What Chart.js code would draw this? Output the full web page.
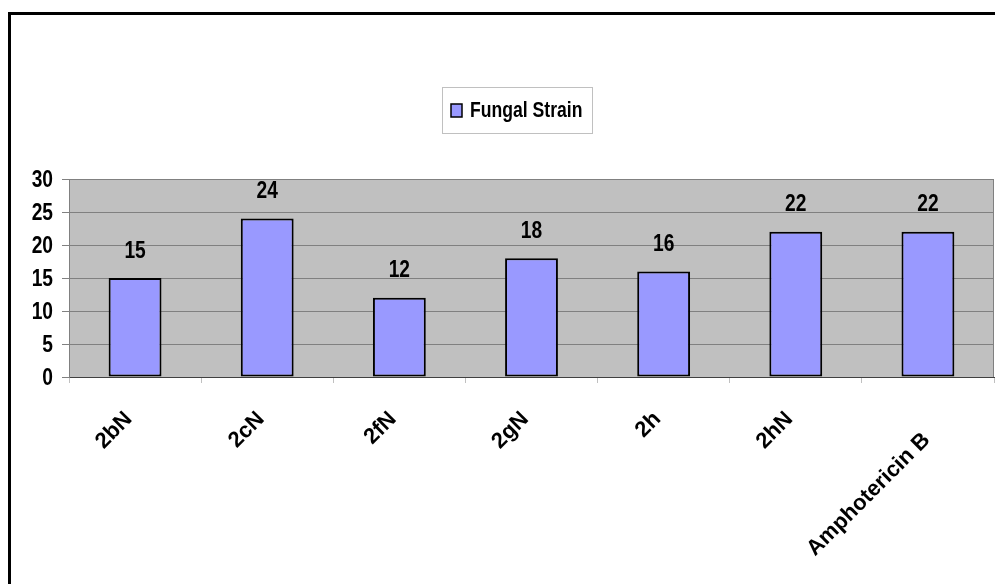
<!DOCTYPE html>
<html>
<head>
<meta charset="utf-8">
<script src="https://cdn.jsdelivr.net/npm/chart.js@4/dist/chart.umd.min.js"></script>
<style>
  html, body { margin: 0; padding: 0; background: #fff; }
  #wrap { width: 995px; height: 584px; }
</style>
</head>
<body>
<div id="wrap"><canvas id="grafico" width="995" height="584"></canvas></div>
<script>
const categorias = ["2bN", "2cN", "2fN", "2gN", "2h", "2hN", "Amphotericin B"];
const valores = [15, 24, 12, 18, 16, 22, 22];
const nomeSerie = "Fungal Strain";
const yMin = 0, yMax = 30, yPasso = 5;

const fonte = "'Liberation Sans', Arial, sans-serif";
const estreita = 0.8; // fator de compressao horizontal (tipo Arial Narrow)

// texto horizontal comprimido
function textoEstreito(ctx, txt, x, y, align) {
  ctx.save();
  ctx.translate(x, y);
  ctx.scale(estreita, 1);
  ctx.textAlign = align;
  ctx.fillText(txt, 0, 0);
  ctx.restore();
}

const fundoGrafico = {
  id: "fundoGrafico",
  beforeDraw(chart) {
    const { ctx, chartArea: a } = chart;
    ctx.save();
    ctx.fillStyle = "#fff";
    ctx.fillRect(0, 0, chart.width, chart.height);
    ctx.fillStyle = "#C0C0C0";
    ctx.fillRect(a.left, a.top, a.right - a.left, a.bottom - a.top);
    ctx.restore();
  },
  afterDraw(chart) {
    const { ctx, chartArea: a } = chart;
    ctx.save();
    ctx.strokeStyle = "#808080";
    ctx.lineWidth = 1;
    ctx.beginPath();
    ctx.moveTo(a.left, a.top + 0.5);
    ctx.lineTo(a.right - 0.5, a.top + 0.5);
    ctx.lineTo(a.right - 0.5, a.bottom);
    ctx.stroke();
    // moldura externa
    ctx.strokeStyle = "#000";
    ctx.lineWidth = 3;
    ctx.strokeRect(9.5, 13.5, 1000, 600);
    // rotulos do eixo y
    const y = chart.scales.y;
    ctx.fillStyle = "#000";
    ctx.font = "bold 24px " + fonte;
    ctx.textBaseline = "middle";
    y.ticks.forEach(t => {
      textoEstreito(ctx, String(t.value), 53, y.getPixelForValue(t.value) + 1, "right");
    });
    // rotulos do eixo x, inclinados 45 graus
    const x = chart.scales.x;
    const larguraCat = (a.right - a.left) / categorias.length;
    ctx.font = "bold 22px " + fonte;
    ctx.textAlign = "right";
    ctx.textBaseline = "alphabetic";
    categorias.forEach((c, i) => {
      // rotulos longos descem um pouco, como no Excel
      const longo = ctx.measureText(c).width > larguraCat;
      ctx.save();
      ctx.translate(x.getPixelForValue(i) - 2 + (longo ? 5 : 0), a.bottom + 43 + (longo ? 21 : 0));
      ctx.rotate(-Math.PI / 4);
      ctx.fillText(c, 0, 0);
      ctx.restore();
    });
    // legenda
    ctx.strokeStyle = "#C0C0C0";
    ctx.lineWidth = 1;
    ctx.strokeRect(442.5, 87.5, 150, 46);
    ctx.fillStyle = "#9999FF";
    ctx.fillRect(451, 104, 11, 13);
    ctx.strokeStyle = "#000";
    ctx.lineWidth = 1.5;
    ctx.strokeRect(451, 104, 11, 13);
    ctx.fillStyle = "#000";
    ctx.font = "bold 22px " + fonte;
    ctx.textBaseline = "middle";
    textoEstreito(ctx, nomeSerie, 470, 111, "left");
    ctx.restore();
  }
};

const rotulosDados = {
  id: "rotulosDados",
  afterDatasetsDraw(chart) {
    const { ctx } = chart;
    const meta = chart.getDatasetMeta(0);
    ctx.save();
    ctx.fillStyle = "#000";
    ctx.font = "bold 24px " + fonte;
    ctx.textBaseline = "middle";
    meta.data.forEach((bar, i) => {
      textoEstreito(ctx, String(valores[i]), bar.x, bar.y - 27, "center");
    });
    ctx.restore();
  }
};

function gerarGrafico() {
  const ctx = document.getElementById("grafico").getContext("2d");
  new Chart(ctx, {
    type: "bar",
    data: {
      labels: categorias,
      datasets: [{
        label: nomeSerie,
        data: valores,
        backgroundColor: "#9999FF",
        borderColor: "#000",
        borderWidth: 2,
        borderSkipped: false,
        barPercentage: 0.4,
        categoryPercentage: 1
      }]
    },
    options: {
      responsive: false,
      animation: false,
      layout: { padding: { top: 179, right: 1, left: 0, bottom: 0 } },
      plugins: { legend: { display: false }, tooltip: { enabled: false } },
      scales: {
        x: {
          afterFit(s) { s.height = 207; },
          grid: { drawOnChartArea: false, drawTicks: true, tickLength: 6, color: "#C0C0C0", offset: true },
          border: { color: "#404040", width: 1 },
          ticks: { display: false, autoSkip: false }
        },
        y: {
          min: yMin, max: yMax,
          afterFit(s) { s.width = 69; },
          grid: { color: "#808080", lineWidth: 1, tickLength: 7 },
          border: { color: "#808080", width: 1 },
          ticks: { stepSize: yPasso, display: false }
        }
      }
    },
    plugins: [fundoGrafico, rotulosDados]
  });
}

window.onload = gerarGrafico;
</script>
</body>
</html>
